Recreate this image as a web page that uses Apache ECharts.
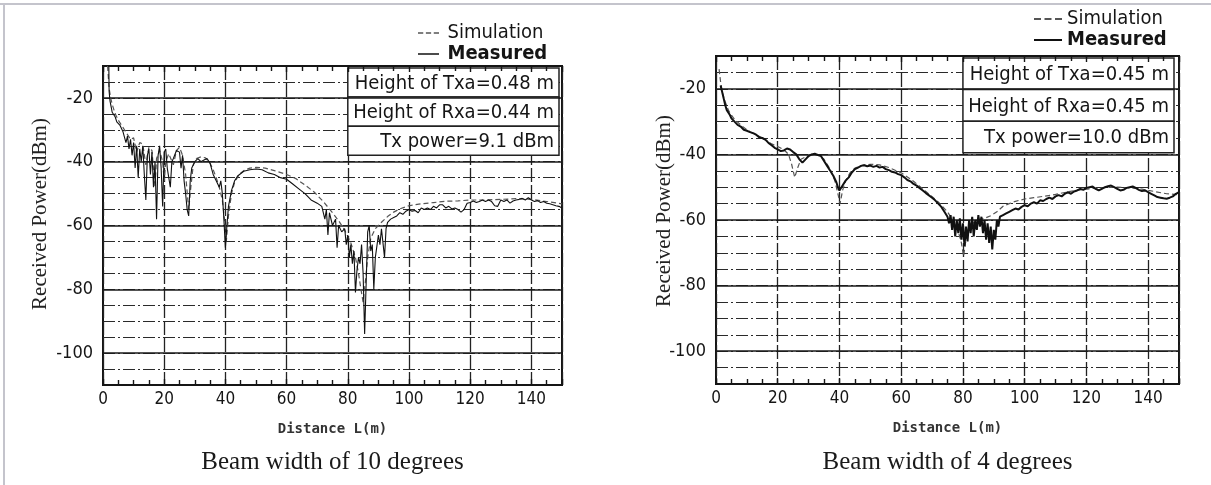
<!DOCTYPE html>
<html>
<head>
<meta charset="utf-8">
<script src="https://cdn.jsdelivr.net/npm/echarts@6/dist/echarts.min.js"></script>
<style>
  html, body { margin: 0; padding: 0; background: #fff; }
  #chart { width: 1211px; height: 485px; }
</style>
</head>
<body>
<div id="chart"></div>
<script>
// Received power (dBm) versus distance L (m): [distance, power]

// Beam width of 10 degrees
const simL = [
  [1.5,-10],[2,-17],[2.5,-20],[3,-22],[4,-25],[5,-27],[6,-28.5],[7,-30],[8,-31.5],[9,-33],
  [10,-32.5],[11,-37],[12,-34],[13,-34.5],[14,-41],[15,-35.5],[16,-36.5],[17,-48],[17.5,-39],
  [18.5,-36.5],[19.5,-40],[20,-46],[20.5,-40],[21.5,-37.5],[23,-41],[24,-36.5],[25,-35.5],
  [26,-38],[27,-44],[28,-55],[28.7,-48],[29.5,-41],[30.5,-39],[32,-38.5],[33.5,-38.8],[35,-40.5],
  [36,-42.5],[37,-45],[38,-48],[39,-52],[39.7,-58],[40.3,-65],[41,-57],[42,-50],[43,-46.5],
  [44.5,-44],[46,-42.8],[48,-42],[50,-41.8],[53,-42],[56,-42.8],[60,-44],[63,-45.3],[66,-47.3],
  [69,-49.5],[72,-52.5],[75,-56],[77,-58.5],[79,-61.5],[81,-65.5],[82.5,-70],[83.5,-75],
  [84.3,-80],[85,-84],[85.7,-78],[86.5,-70],[87.5,-64],[89,-61],[91,-59],[93,-57.2],[95,-55.8],
  [97,-54.8],[100,-53.8],[104,-53.2],[108,-52.8],[112,-52.4],[116,-52.3],[120,-52],[125,-52],
  [130,-51.8],[135,-51.6],[140,-51.8],[145,-52.5],[150,-53.2]
];
const measL = [
  [1.9,-10],[2,-18],[2.3,-21],[2.7,-23],[3,-24.5],[3.5,-25],[4,-26],[4.5,-27.5],[5,-28],[5.5,-28.5],
  [6,-29.5],[6.5,-30.5],[7,-31],[7.5,-34],[8,-32],[8.5,-36],[9,-33],[9.5,-38],[10,-34],[10.5,-42],
  [11,-35],[11.5,-45],[12,-36],[12.5,-40],[13,-35],[13.5,-44],[14,-52],[14.5,-38],[15,-36],
  [15.5,-44],[16,-37],[16.5,-48],[17,-40],[17.5,-58],[18,-38],[18.5,-35],[19,-42],[19.5,-54],
  [20,-37],[20.5,-36],[21,-42],[22,-48],[22.5,-40],[23,-39],[24,-36.5],[25,-37],[25.5,-42],
  [26,-38],[26.5,-46],[27,-50],[27.5,-55],[28,-57],[28.5,-46],[29,-42],[30,-40],[31,-39],
  [32,-40],[33,-39.5],[34,-39],[35,-40.5],[36,-44],[37,-46],[38,-48],[38.5,-46],[39,-50],
  [39.5,-58],[40,-67],[40.5,-60],[41,-54],[42,-49],[43,-46],[44,-44.5],[46,-43],[48,-42.5],
  [50,-42.3],[52,-42.5],[54,-43.5],[56,-44],[58,-45],[60,-45.5],[62,-47],[64,-48.5],[66,-50],
  [68,-52],[70,-53],[71.5,-54],[72.5,-58],[73,-55],[73.5,-63],[74,-56],[75,-60],[76,-58],
  [76.5,-67],[77,-60],[78,-62],[79,-61],[79.5,-66],[80,-63],[80.5,-70],[81,-66],[81.5,-72],
  [82,-68],[82.5,-81],[83,-74],[83.5,-70],[84,-72],[84.5,-66],[85,-75],[85.5,-94],[86,-78],
  [86.5,-62],[87,-60],[87.5,-68],[88,-66],[88.5,-80],[89,-70],[90,-63],[90.5,-66],[91,-61],
  [92,-70],[92.5,-61],[93,-59],[94,-58],[95,-57.5],[96,-57],[97,-56],[98,-56.5],[99,-55.5],
  [100,-55],[101,-55.5],[102,-55.3],[103,-56],[104,-54.5],[105,-55],[106,-54.5],[107,-55],
  [108,-54],[109,-54.5],[110,-53.5],[111,-53.5],[112,-54.5],[113,-54],[114,-54.8],[115,-54.5],
  [116,-55],[117,-55.8],[118,-55],[119,-53],[120,-52.8],[121,-52.3],[122,-52.8],[123,-52.5],
  [124,-52],[125,-52.5],[126,-52],[127,-52.5],[128,-53.8],[129,-54],[130,-52],[131,-52.5],
  [132,-52],[133,-53],[134,-52.3],[135,-52],[136,-51.8],[137,-51.5],[138,-52],[139,-51.3],
  [140,-52],[141,-52.5],[142,-52.2],[143,-52.8],[144,-52.5],[145,-53],[146,-53.2],[147,-53.5],
  [148,-53.8],[149,-54],[150,-54.5]
];

// Beam width of 4 degrees
const simR = [
  [1,-14],[1.5,-18],[2,-21],[3,-24],[4,-26.5],[5,-28],[6,-29.3],[8,-31],[10,-32.5],[12,-33.6],
  [14,-34.5],[16,-35.6],[18,-36.8],[20,-37.6],[22,-38.6],[23.5,-40],[24.5,-43],[25.5,-47],
  [26.5,-44],[27.5,-41.5],[29,-40.8],[31,-40],[33,-40],[35,-41.5],[37,-44.5],[38.5,-48],
  [39.5,-52],[40.2,-55],[41,-51],[42,-48],[43.5,-45.5],[45,-44.2],[47,-43.4],[50,-43],
  [53,-43.2],[56,-44],[60,-45.6],[64,-48.2],[68,-51.3],[72,-54.5],[75,-57.5],[77,-60.5],
  [78.5,-63.5],[79.5,-67],[80.2,-71],[81,-66],[82,-62.5],[83.5,-60.8],[85,-60],[87,-59.5],
  [89,-58.7],[91,-57.5],[93,-55.8],[95,-55],[97,-54.3],[100,-53.6],[103,-53.2],[106,-52.8],
  [110,-52.2],[114,-51.4],[118,-50.8],[122,-50.4],[126,-50.1],[130,-50],[134,-50.2],
  [138,-50.6],[142,-51.3],[146,-52],[150,-52.3]
];
const measR = [
  [1.5,-19],[2,-21],[2.5,-23],[3,-25],[3.5,-26.5],[4,-27],[4.5,-28],[5,-29],[5.5,-28.5],[6,-30],
  [7,-31],[8,-31.5],[9,-32.5],[10,-32.8],[11,-33.2],[12,-33.5],[13,-34],[14,-34.8],[15,-35],
  [16,-35.5],[17,-36.5],[18,-37.2],[19,-38],[20,-38.5],[21,-39],[22,-38.8],[23,-38.2],[24,-38.5],
  [25,-39.3],[26,-40],[27,-41.5],[28,-42.5],[29,-41.5],[30,-40.5],[31,-40],[32,-39.8],[33,-40.2],
  [34,-40.5],[35,-42],[36,-43.5],[37,-45],[38,-46.5],[39,-48.5],[39.5,-50],[40,-51],[40.5,-50.5],
  [41,-49.5],[42,-48],[43,-47],[44,-45.5],[45,-44.5],[46,-44],[47,-43.5],[48,-43.3],[49,-43.6],
  [50,-43.4],[51,-43.8],[52,-43.5],[53,-44],[54,-43.8],[55,-44.5],[56,-44.8],[57,-45.3],
  [58,-45.5],[59,-46],[60,-46.3],[61,-47],[62,-47.8],[63,-48.2],[64,-49],[65,-49.5],[66,-50.3],
  [67,-51],[68,-51.8],[69,-52.5],[70,-53.2],[71,-54],[72,-55],[73,-56],[74,-57.5],[75,-59],
  [75.5,-61],[76,-58.5],[76.5,-63],[77,-59],[77.5,-65],[78,-60],[78.5,-64],[79,-59.5],[79.5,-66],
  [80,-61],[80.5,-68],[81,-62],[81.5,-66.5],[82,-60],[82.5,-64],[83,-59],[83.5,-65],[84,-60],
  [84.5,-63],[85,-58.5],[85.5,-62],[86,-59],[86.5,-64],[87,-60],[87.5,-66],[88,-61],[88.5,-67],
  [89,-62],[89.5,-69],[90,-63],[90.5,-66],[91,-60],[91.5,-62],[92,-59],[93,-58.5],[94,-58],
  [95,-57.5],[96,-57],[97,-56.5],[98,-56.8],[99,-56],[100,-55.5],[101,-55.8],[102,-55],
  [103,-54.6],[104,-55],[105,-54],[106,-54.2],[107,-53.6],[108,-53.2],[109,-53.6],[110,-52.8],
  [111,-52.4],[112,-52.8],[113,-52],[114,-51.5],[115,-52],[116,-51.3],[117,-51],[118,-50.5],
  [119,-50.8],[120,-50.2],[121,-50],[122,-49.8],[123,-50.5],[124,-51],[125,-50.5],[126,-50],
  [127,-49.7],[128,-49.5],[129,-50],[130,-50.5],[131,-51],[132,-50.8],[133,-50.2],[134,-50],
  [135,-49.8],[136,-50.2],[137,-50.8],[138,-51.2],[139,-51],[140,-51.5],[141,-52],[142,-52.5],
  [143,-53],[144,-53.2],[145,-53.4],[146,-53.5],[147,-53.2],[148,-52.8],[149,-52],[150,-51.5]
];

// Heavy grid lines every 20 dB
const solidLevels = [-20, -40, -60, -80, -100];

// Annotation rows and captions
const boxL = ['Height of Txa=0.48 m', 'Height of Rxa=0.44 m', 'Tx power=9.1 dBm'];
const boxR = ['Height of Txa=0.45 m', 'Height of Rxa=0.45 m', 'Tx power=10.0 dBm'];
const captions = ['Beam width of 10 degrees', 'Beam width of 4 degrees'];
const yTitle = 'Received Power(dBm)';
const xTitle = 'Distance L(m)';

const TICK_FONT = 'DejaVu Sans Condensed';
const INK = '#151515';
const SIM_COLOR = '#555';
const MEAS_COLOR = '#111';

// Legend keys: a dashed bar and a solid bar, 28 x 2 units
const ICON_DASHED = 'path://M0,0H7V2H0Z M10.5,0H17.5V2H10.5Z M21,0H28V2H21Z';
const ICON_SOLID = 'path://M0,0H28V2H0Z';

const chart = echarts.init(document.getElementById('chart'));

function xAxesFor(gi) {
  const tick = { show: true, inside: true, length: 6, lineStyle: { color: INK, width: 1.4 } };
  const minor = { show: true, splitNumber: 4, length: 5, lineStyle: { color: INK, width: 1.4 } };
  return [
    {
      gridIndex: gi, type: 'value', min: 0, max: 150, interval: 20, position: 'bottom',
      name: xTitle, nameLocation: 'middle', nameGap: 37,
      nameTextStyle: { fontFamily: 'DejaVu Sans Mono', fontWeight: 'bold', fontSize: 14, color: '#333' },
      axisLine: { show: true, lineStyle: { color: INK, width: 2 } }, axisTick: tick, minorTick: minor,
      axisLabel: { showMaxLabel: false, margin: 6, fontFamily: TICK_FONT, fontSize: 17, color: INK },
      splitLine: { show: true, lineStyle: { color: '#222', width: 1.3, type: [14, 3] } }
    },
    {
      gridIndex: gi, type: 'value', min: 0, max: 150, interval: 20, position: 'top',
      axisLine: { show: true, lineStyle: { color: INK, width: 2 } },
      axisLabel: { show: false }, splitLine: { show: false },
      axisTick: tick, minorTick: minor
    }
  ];
}

function yAxisFor(gi) {
  return {
    gridIndex: gi, type: 'value', min: -110, max: -10, interval: 5,
    axisLine: { show: false }, axisTick: { show: false },
    axisLabel: {
      formatter: v => (v % 20 === 0 ? String(v) : ''),
      margin: 10, fontFamily: TICK_FONT, fontSize: 18, color: INK
    },
    splitLine: { show: true, lineStyle: { color: '#2a2a2a', width: 1.2, type: [12, 3, 2, 3] } }
  };
}

function seriesFor(gi, sim, meas, measWidth) {
  return [
    {
      name: 'Simulation', type: 'line', xAxisIndex: gi * 2, yAxisIndex: gi,
      data: sim, symbol: 'none', z: 3,
      itemStyle: { color: SIM_COLOR },
      lineStyle: { color: SIM_COLOR, width: 1.2, type: [5, 3] },
      markLine: {
        silent: true, symbol: 'none', z: 1, animation: false,
        label: { show: false },
        lineStyle: { type: 'solid', color: '#1a1a1a', width: 1.6 },
        data: solidLevels.map(v => ({ yAxis: v }))
      }
    },
    {
      name: 'Measured', type: 'line', xAxisIndex: gi * 2, yAxisIndex: gi,
      data: meas, symbol: 'none', z: 4,
      itemStyle: { color: MEAS_COLOR },
      lineStyle: { color: MEAS_COLOR, width: measWidth }
    }
  ];
}

function legendFor(left, top, keyThickness) {
  return {
    orient: 'vertical', left: left, top: top, padding: 0, itemGap: 1,
    itemWidth: 28, itemHeight: keyThickness, selectedMode: false,
    textStyle: { fontFamily: TICK_FONT, fontSize: 20, color: INK },
    data: [
      { name: 'Simulation', icon: ICON_DASHED, itemStyle: { color: SIM_COLOR } },
      { name: 'Measured', icon: ICON_SOLID, itemStyle: { color: MEAS_COLOR },
        textStyle: { fontWeight: 'bold' } }
    ]
  };
}

const grids = [
  { left: 103, top: 66, width: 459, height: 319 },
  { left: 716, top: 56, width: 463, height: 328 }
].map(g => Object.assign(g, { show: true, borderColor: INK, borderWidth: 2, backgroundColor: 'transparent' }));

chart.setOption({
  animation: false,
  backgroundColor: '#fff',
  grid: grids,
  xAxis: xAxesFor(0).concat(xAxesFor(1)),
  yAxis: [yAxisFor(0), yAxisFor(1)],
  legend: [legendFor(418, 23, 1.5), legendFor(1034, 9, 2.2)],
  series: seriesFor(0, simL, measL, 1.1).concat(seriesFor(1, simR, measR, 2))
});

// Annotation box anchored to the data area: from x = 80 m to the right frame
function infoBox(gi, lines, yBottom, insetR) {
  const tl = chart.convertToPixel({ gridIndex: gi }, [80, -10]);
  const br = chart.convertToPixel({ gridIndex: gi }, [150, yBottom]);
  const x0 = tl[0], y0 = tl[1] + 2, x1 = br[0] - insetR, y1 = br[1];
  const h = (y1 - y0) / lines.length;
  const children = [];
  lines.forEach((t, i) => {
    children.push({
      type: 'rect', shape: { x: x0, y: y0 + i * h, width: x1 - x0, height: h },
      style: { fill: '#fff', stroke: '#222', lineWidth: 1.5 }
    });
    children.push({
      type: 'text',
      style: {
        text: t, x: x1 - 5, y: y0 + i * h + h / 2 + 1, align: 'right', verticalAlign: 'middle',
        fontFamily: TICK_FONT, fontSize: 20, fill: INK
      }
    });
  });
  return { type: 'group', z: 100, children: children };
}

function gridCenterX(g) { return g.left + g.width / 2; }

chart.setOption({
  graphic: [
    { type: 'line', z: 0, shape: { x1: 0, y1: 4, x2: 1211, y2: 4 }, style: { stroke: '#c4c4cc', lineWidth: 2 } },
    { type: 'line', z: 0, shape: { x1: 4, y1: 4, x2: 4, y2: 485 }, style: { stroke: '#c4c4cc', lineWidth: 2 } },
    infoBox(0, boxL, -38, 3),
    infoBox(1, boxR, -39.5, 5),
    {
      type: 'text', z: 50, x: 40, y: 214, rotation: Math.PI / 2,
      style: { text: yTitle, align: 'center', verticalAlign: 'middle', fontFamily: 'Liberation Serif', fontSize: 21, fill: '#222' }
    },
    {
      type: 'text', z: 50, x: 664, y: 211, rotation: Math.PI / 2,
      style: { text: yTitle, align: 'center', verticalAlign: 'middle', fontFamily: 'Liberation Serif', fontSize: 21, fill: '#222' }
    },
    {
      type: 'text', z: 50, x: gridCenterX(grids[0]), y: 462,
      style: { text: captions[0], align: 'center', verticalAlign: 'middle', fontFamily: 'Liberation Serif', fontSize: 25, fill: '#1a1a1a' }
    },
    {
      type: 'text', z: 50, x: gridCenterX(grids[1]), y: 462,
      style: { text: captions[1], align: 'center', verticalAlign: 'middle', fontFamily: 'Liberation Serif', fontSize: 25, fill: '#1a1a1a' }
    }
  ]
});
</script>
</body>
</html>
